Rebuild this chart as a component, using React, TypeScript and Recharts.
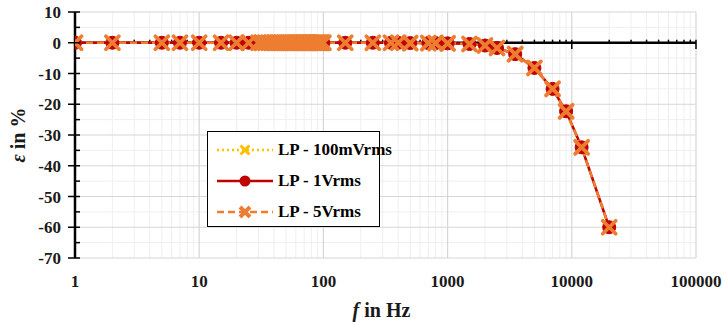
import React from "react";
import {
  LineChart,
  Line,
  XAxis,
  YAxis,
  CartesianGrid,
  ReferenceLine,
  Legend,
} from "recharts";

// ---------- data ----------
const freqs = [
  1, 2, 5, 7, 10, 15, 20, 25,
  30, 32, 34, 36, 38, 40, 42, 44, 46, 48, 50, 52, 54, 56, 58, 60, 62, 64, 66, 68,
  70, 72, 74, 76, 78, 80, 82, 84, 86, 88, 90, 92, 94, 96, 98, 100,
  150, 250, 350, 400, 500, 700, 800,
  1000, 1500, 2000, 2500, 3500, 5000, 7000, 9000, 12000, 20000,
];

const lp100mV = [
  0, 0, 0, 0, 0, 0, 0, 0,
  0, 0, 0, 0, 0, 0, 0, 0, 0, 0, 0, 0, 0, 0, 0, 0, 0, 0, 0, 0,
  0, 0, 0, 0, 0, 0, 0, 0, 0, 0, 0, 0, 0, 0, 0, 0,
  0, 0, 0, 0, -0.1, -0.1, -0.1,
  -0.2, -0.4, -0.9, -1.7, -3.7, -8.2, -15.0, -22.3, -34.0, -60.0,
];

const lp1V = [
  0, 0, 0, 0, 0, 0, 0, 0,
  0, 0, 0, 0, 0, 0, 0, 0, 0, 0, 0, 0, 0, 0, 0, 0, 0, 0, 0, 0,
  0, 0, 0, 0, 0, 0, 0, 0, 0, 0, 0, 0, 0, 0, 0, 0,
  0, 0, 0, 0, -0.1, -0.1, -0.1,
  -0.2, -0.4, -0.9, -1.7, -3.7, -8.2, -15.0, -22.3, -34.0, -60.0,
];

const lp5V = [
  0, 0, 0, 0, 0, 0, 0, 0,
  0, 0, 0, 0, 0, 0, 0, 0, 0, 0, 0, 0, 0, 0, 0, 0, 0, 0, 0, 0,
  0, 0, 0, 0, 0, 0, 0, 0, 0, 0, 0, 0, 0, 0, 0, 0,
  0, 0, 0, 0, -0.1, -0.1, -0.1,
  -0.2, -0.4, -0.9, -1.7, -3.7, -8.2, -15.0, -22.3, -34.0, -60.0,
];

const seriesNames = ["LP - 100mVrms", "LP - 1Vrms", "LP - 5Vrms"];

const xTicks = [1, 10, 100, 1000, 10000, 100000];
const xMinor = [
  2, 3, 4, 5, 6, 7, 8, 9,
  20, 30, 40, 50, 60, 70, 80, 90,
  200, 300, 400, 500, 600, 700, 800, 900,
  2000, 3000, 4000, 5000, 6000, 7000, 8000, 9000,
  20000, 30000, 40000, 50000, 60000, 70000, 80000, 90000,
];
const yMajor = [-70, -60, -50, -40, -30, -20, -10, 0, 10];
const yMinor = [-65, -55, -45, -35, -25, -15, -5, 5];
const yTicks = [-70, -65, -60, -55, -50, -45, -40, -35, -30, -25, -20, -15, -10, -5, 0, 5, 10];

const data = freqs.map((f, i) => ({
  f,
  a: lp100mV[i],
  b: lp1V[i],
  c: lp5V[i],
}));

// ---------- styles ----------
const YELLOW = "#FFC000";
const RED = "#C00000";
const ORANGE = "#ED7D31";
const FONT = "'Liberation Serif', 'Times New Roman', serif";

const xMark = (cx: number, cy: number, s: number) =>
  `M${cx - s},${cy - s}L${cx + s},${cy + s}M${cx - s},${cy + s}L${cx + s},${cy - s}`;

const YellowDot = (p: any) => {
  const { cx, cy, index } = p;
  if (cx == null || cy == null) return <g key={`ya${index}`} />;
  return <path key={`ya${index}`} d={xMark(cx, cy, 4.5)} stroke={YELLOW} strokeWidth={2.5} fill="none" />;
};
const RedDot = (p: any) => {
  const { cx, cy, index } = p;
  if (cx == null || cy == null) return <g key={`rb${index}`} />;
  return <circle key={`rb${index}`} cx={cx} cy={cy} r={6.5} fill={RED} stroke={RED} strokeWidth={1} />;
};
const OrangeDot = (p: any) => {
  const { cx, cy, index } = p;
  if (cx == null || cy == null) return <g key={`oc${index}`} />;
  return (
    <g key={`oc${index}`}>
      <path d={xMark(cx, cy, 6.5)} stroke={ORANGE} strokeWidth={3.8} fill="none" strokeLinecap="round" />
    </g>
  );
};

const YTick = (p: any) => {
  const { x, y, payload } = p;
  const v = payload.value;
  const major = v % 10 === 0;
  if (!major) {
    return <line x1={x} x2={x + 5} y1={y} y2={y} stroke="#000" strokeWidth={1.5} />;
  }
  return (
    <g>
      <line x1={x - 7} x2={x + 5} y1={y} y2={y} stroke="#000" strokeWidth={1.5} />
      <text
        x={x - 14}
        y={y}
        dy={6}
        textAnchor="end"
        fontFamily={FONT}
        fontWeight="bold"
        fontSize={17}
        fill="#1a1a1a"
      >
        {v}
      </text>
    </g>
  );
};

const XTick = (p: any) => {
  const { x, y, payload } = p;
  return (
    <text
      x={x}
      y={y}
      dy={29}
      textAnchor="middle"
      fontFamily={FONT}
      fontWeight="bold"
      fontSize={17}
      fill="#1a1a1a"
    >
      {payload.value}
    </text>
  );
};

const XTitle = (p: any) => {
  const vb = p.viewBox || { x: 75, y: 258, width: 621, height: 64 };
  return (
    <text
      x={vb.x + vb.width / 2 - 4}
      y={vb.y + 59}
      textAnchor="middle"
      fontFamily={FONT}
      fontWeight="bold"
      fontSize={20}
      fill="#1a1a1a"
    >
      <tspan fontStyle="italic">f</tspan>
      <tspan> in Hz</tspan>
    </text>
  );
};

const YTitle = (p: any) => {
  const vb = p.viewBox || { x: 0, y: 12, width: 75, height: 246 };
  const cx = vb.x + 25;
  const cy = vb.y + vb.height / 2;
  return (
    <text
      x={cx}
      y={cy}
      transform={`rotate(-90, ${cx}, ${cy})`}
      textAnchor="middle"
      fontFamily={FONT}
      fontWeight="bold"
      fontSize={20}
      fill="#1a1a1a"
    >
      <tspan fontStyle="italic">ε</tspan>
      <tspan> in %</tspan>
    </text>
  );
};

const LegendSample = ({ kind }: { kind: number }) => {
  const w = 56;
  const h = 20;
  const cy = h / 2;
  const cx = w / 2;
  if (kind === 0) {
    return (
      <svg width={w} height={h}>
        <line x1={0} x2={w} y1={cy} y2={cy} stroke={YELLOW} strokeWidth={2.5} strokeDasharray="2 3" />
        <path d={xMark(cx, cy, 4.5)} stroke={YELLOW} strokeWidth={3} fill="none" />
      </svg>
    );
  }
  if (kind === 1) {
    return (
      <svg width={w} height={h}>
        <line x1={0} x2={w} y1={cy} y2={cy} stroke={RED} strokeWidth={2.5} />
        <circle cx={cx} cy={cy} r={5.5} fill={RED} />
      </svg>
    );
  }
  return (
    <svg width={w} height={h}>
      <line x1={0} x2={w} y1={cy} y2={cy} stroke={ORANGE} strokeWidth={2.5} strokeDasharray="7 4" />
      <path d={xMark(cx, cy, 5)} stroke={ORANGE} strokeWidth={4} fill="none" />
    </svg>
  );
};

const LegendBox = () => (
  <div
    style={{
      position: "relative",
      width: 173,
      height: 96,
      border: "1.5px solid #000",
      background: "#fff",
      boxSizing: "border-box",
    }}
  >
    {seriesNames.map((name, i) => (
      <div
        key={name}
        style={{
          position: "absolute",
          left: 9,
          top: 6 + i * 31,
          height: 24,
          display: "flex",
          alignItems: "center",
          whiteSpace: "nowrap",
        }}
      >
        <LegendSample kind={i} />
        <span
          style={{
            marginLeft: 5,
            fontFamily: FONT,
            fontWeight: "bold",
            fontSize: 17,
            color: "#000",
            lineHeight: "24px",
          }}
        >
          {name}
        </span>
      </div>
    ))}
  </div>
);

export default function App() {
  return (
    <div style={{ position: "absolute", left: 0, top: 0, width: 723, height: 322, background: "#fff" }}>
      <LineChart
        width={723}
        height={322}
        data={data}
        margin={{ top: 12, right: 27, left: 0, bottom: 0 }}
      >
        <CartesianGrid
          stroke="#efefef"
          strokeWidth={1}
          horizontalValues={yMinor}
          verticalValues={xMinor}
        />
        <CartesianGrid
          stroke="#d6d6d6"
          strokeWidth={1.2}
          horizontalValues={yMajor}
          verticalValues={xTicks}
        />
        <XAxis
          dataKey="f"
          type="number"
          scale="log"
          domain={[1, 100000]}
          ticks={xTicks}
          allowDataOverflow
          axisLine={false}
          tickLine={false}
          tickSize={0}
          tickMargin={0}
          height={64}
          tick={<XTick />}
          interval={0}
          label={{ content: XTitle }}
        />
        <YAxis
          type="number"
          domain={[-70, 10]}
          ticks={yTicks}
          allowDataOverflow
          width={75}
          axisLine={{ stroke: "#000", strokeWidth: 2.5 }}
          tickLine={false}
          tickSize={0}
          tickMargin={0}
          tick={<YTick />}
          interval={0}
          label={{ content: YTitle }}
        />
        <ReferenceLine y={0} stroke="#000" strokeWidth={2.5} />
        {xMinor.map((v) => (
          <ReferenceLine
            key={`mt${v}`}
            segment={[
              { x: v, y: 0 },
              { x: v, y: 1 },
            ]}
            stroke="#000"
            strokeWidth={1.5}
          />
        ))}
        {xTicks.slice(1).map((v) => (
          <ReferenceLine
            key={`Mt${v}`}
            segment={[
              { x: v, y: -2 },
              { x: v, y: 1 },
            ]}
            stroke="#000"
            strokeWidth={1.5}
          />
        ))}
        <Line
          type="linear"
          dataKey="a"
          name={seriesNames[0]}
          stroke={YELLOW}
          strokeWidth={2.5}
          strokeDasharray="2 3"
          dot={YellowDot}
          activeDot={false}
          isAnimationActive={false}
        />
        <Line
          type="linear"
          dataKey="b"
          name={seriesNames[1]}
          stroke={RED}
          strokeWidth={2.5}
          dot={RedDot}
          activeDot={false}
          isAnimationActive={false}
        />
        <Line
          type="linear"
          dataKey="c"
          name={seriesNames[2]}
          stroke={ORANGE}
          strokeWidth={2.5}
          strokeDasharray="7 4"
          dot={OrangeDot}
          activeDot={false}
          isAnimationActive={false}
        />
        <Legend
          layout="vertical"
          align="center"
          verticalAlign="middle"
          content={<LegendBox />}
          wrapperStyle={{ left: 207, top: 131, width: 173, height: 96 }}
        />
      </LineChart>
    </div>
  );
}
